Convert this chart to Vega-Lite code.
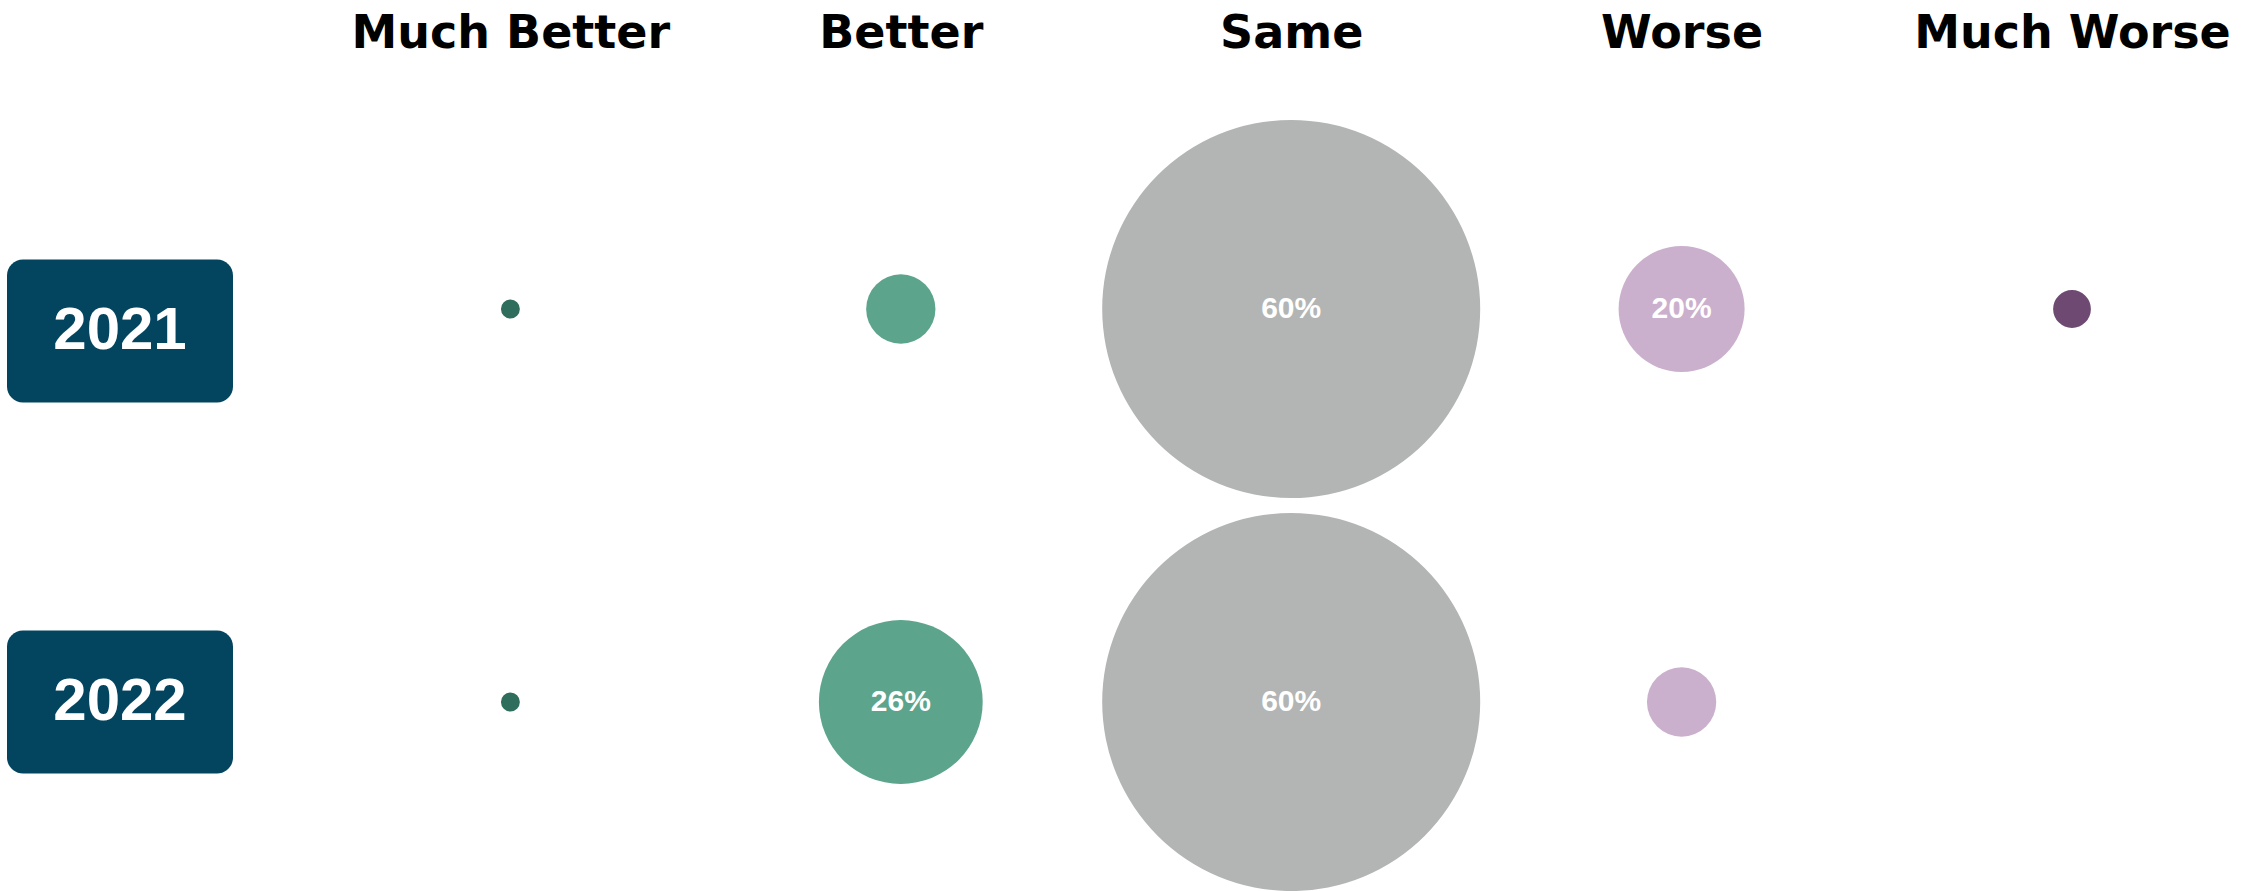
{
  "$schema": "https://vega.github.io/schema/vega-lite/v6.json",
  "width": 2251,
  "height": 891,
  "autosize": "none",
  "padding": 0,
  "background": "white",
  "config": {"view": {"stroke": null}},
  "datasets": {
    "circles": [
      {"year": "2021", "cat": "Much Better", "value": 0.03},
      {"year": "2021", "cat": "Better", "value": 0.11},
      {"year": "2021", "cat": "Same", "value": 0.60},
      {"year": "2021", "cat": "Worse", "value": 0.20},
      {"year": "2021", "cat": "Much Worse", "value": 0.06},
      {"year": "2022", "cat": "Much Better", "value": 0.03},
      {"year": "2022", "cat": "Better", "value": 0.26},
      {"year": "2022", "cat": "Same", "value": 0.60},
      {"year": "2022", "cat": "Worse", "value": 0.11},
      {"year": "2022", "cat": "Much Worse", "value": 0.0}
    ],
    "years": [{"year": "2021"}, {"year": "2022"}]
  },
  "encoding": {
    "x": {
      "field": "cat",
      "type": "nominal",
      "sort": null,
      "scale": {"type": "point", "padding": 0, "domain": ["Year", "Much Better", "Better", "Same", "Worse", "Much Worse"], "range": [120, 2072]},
      "axis": {
        "orient": "top",
        "title": null,
        "domain": false,
        "ticks": false,
        "grid": false,
        "offset": -47,
        "labelPadding": 0,
        "labelBaseline": "alphabetic",
        "labelFont": "DejaVu Sans",
        "labelFontWeight": "bold",
        "labelFontSize": 46,
        "labelColor": "#000000",
        "labelLimit": 0,
        "labelOverlap": false,
        "labelAngle": 0,
        "labelExpr": "datum.value === 'Year' ? '' : datum.label"
      }
    },
    "y": {
      "field": "year",
      "type": "nominal",
      "scale": {"type": "point", "padding": 0, "domain": ["2021", "2022"], "range": [309, 702]},
      "axis": null
    }
  },
  "layer": [
    {
      "data": {"name": "years"},
      "transform": [{"filter": "datum.year === '2021'"}],
      "mark": {"type": "rect", "width": 226, "height": 143, "cornerRadius": 16, "color": "#03445F", "yOffset": 22},
      "encoding": {"x": {"datum": "Year", "type": "nominal"}}
    },
    {
      "data": {"name": "years"},
      "transform": [{"filter": "datum.year === '2022'"}],
      "mark": {"type": "rect", "width": 226, "height": 143, "cornerRadius": 16, "color": "#03445F"},
      "encoding": {"x": {"datum": "Year", "type": "nominal"}}
    },
    {
      "data": {"name": "years"},
      "transform": [{"filter": "datum.year === '2021'"}],
      "mark": {"type": "text", "font": "Liberation Sans", "fontWeight": "bold", "fontSize": 60, "color": "white", "align": "center", "baseline": "middle", "yOffset": 22},
      "encoding": {"x": {"datum": "Year", "type": "nominal"}, "text": {"field": "year"}}
    },
    {
      "data": {"name": "years"},
      "transform": [{"filter": "datum.year === '2022'"}],
      "mark": {"type": "text", "font": "Liberation Sans", "fontWeight": "bold", "fontSize": 60, "color": "white", "align": "center", "baseline": "middle"},
      "encoding": {"x": {"datum": "Year", "type": "nominal"}, "text": {"field": "year"}}
    },
    {
      "data": {"name": "circles"},
      "mark": {"type": "circle", "opacity": 1},
      "encoding": {
        "size": {"field": "value", "type": "quantitative", "scale": {"type": "pow", "exponent": 2, "domain": [0, 0.6], "range": [0, 142884], "zero": true}, "legend": null},
        "color": {"field": "cat", "type": "nominal", "scale": {"domain": ["Much Better", "Better", "Same", "Worse", "Much Worse"], "range": ["#2F6E5C", "#5CA48C", "#B3B5B4", "#CBB0CD", "#6E4A73"]}, "legend": null}
      }
    },
    {
      "data": {"name": "circles"},
      "transform": [{"filter": "datum.value >= 0.2"}],
      "mark": {"type": "text", "font": "Liberation Sans", "fontWeight": "bold", "fontSize": 30, "color": "white", "align": "center", "baseline": "middle"},
      "encoding": {
        "text": {"field": "value", "type": "quantitative", "format": ".0%"}
      }
    }
  ]
}
